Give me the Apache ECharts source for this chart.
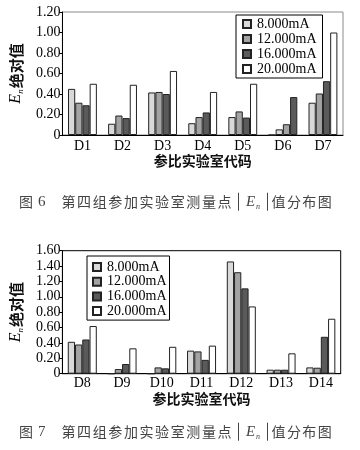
<!DOCTYPE html>
<html><head><meta charset="utf-8">
<script src="https://cdn.jsdelivr.net/npm/echarts@6/dist/echarts.min.js"></script>
<style>html,body{margin:0;padding:0;background:#fff}#c{width:360px;height:450px}</style>
</head><body><div id="c"></div>
<script>
// ---- data ----
const seriesNames = ['8.000mA', '12.000mA', '16.000mA', '20.000mA'];
const labsFig6 = ['D1', 'D2', 'D3', 'D4', 'D5', 'D6', 'D7'];
const fig6_8mA  = [0.45, 0.11, 0.415, 0.115, 0.175, 0, 0.315];
const fig6_12mA = [0.315, 0.19, 0.42, 0.175, 0.23, 0.055, 0.405];
const fig6_16mA = [0.29, 0.165, 0.40, 0.22, 0.17, 0.105, 0.525];
const fig6_20mA = [0.50, 0.49, 0.625, 0.42, 0.50, 0.37, 1.00];
const labsFig7 = ['D8', 'D9', 'D10', 'D11', 'D12', 'D13', 'D14'];
const fig7_8mA  = [0.415, 0, 0, 0.30, 1.46, 0.052, 0.082];
const fig7_12mA = [0.38, 0.06, 0.082, 0.29, 1.32, 0.052, 0.078];
const fig7_16mA = [0.445, 0.126, 0.07, 0.18, 1.11, 0.052, 0.48];
const fig7_20mA = [0.62, 0.33, 0.35, 0.365, 0.875, 0.265, 0.715];
const fig6Ticks = {min: 0, max: 1.2, interval: 0.2};
const fig7Ticks = {min: 0, max: 1.6, interval: 0.2};

// ---- style ----
const colors = ['#d9d9d9', '#a3a3a3', '#5a5a5a', '#ffffff'];
const SERIF = '"Liberation Serif", "Times New Roman", serif';
const CJK = '"Noto Sans CJK SC", sans-serif';
const capColor = '#444';

const chart = echarts.init(document.getElementById('c'), null, {renderer: 'canvas'});

function mkSeries(arrs, idx, gap, shiftIdx) {
  return arrs.map((a, i) => ({
    name: seriesNames[i], type: 'bar', xAxisIndex: idx, yAxisIndex: idx,
    barGap: '0%', barCategoryGap: gap,
    itemStyle: {color: colors[i], borderColor: '#222', borderWidth: 1},
    // D6 in Fig.6 is drawn shifted one slot with the first three shades
    data: a.map((v, k) => (shiftIdx === k && i > 0) ? {value: v, itemStyle: {color: colors[i - 1]}} : v),
    animation: false
  }));
}

function yName() { return '{e|E}{s|n}{c|绝对值}'; }
const yNameStyle = {
  color: '#000',
  rich: {
    e: {fontFamily: SERIF, fontStyle: 'italic', fontSize: 16, color: '#000', lineHeight: 18, verticalAlign: 'middle'},
    s: {fontFamily: SERIF, fontStyle: 'italic', fontSize: 9, color: '#000', lineHeight: 18, verticalAlign: 'bottom', padding: [8, 1, 0, 0]},
    c: {fontFamily: CJK, fontSize: 15, fontWeight: 'bold', color: '#111', lineHeight: 18, verticalAlign: 'middle'}
  }
};

function txt(x, y, t, font, extra) {
  return {type: 'text', x: x, y: y, silent: true,
    style: Object.assign({text: t, font: font, fill: capColor, verticalAlign: 'middle', align: 'left'}, extra || {})};
}
function caption(y, num) {
  const els = [];
  els.push(txt(19, y, '图', '14px ' + CJK));
  els.push(txt(38, y, num, '15px ' + SERIF));
  const s1 = '第四组参加实验室测量点';
  for (let i = 0; i < s1.length; i++) els.push(txt(61.5 + i * 15.6, y, s1[i], '14px ' + CJK));
  els.push({type: 'line', silent: true, shape: {x1: 238.5, y1: y - 9, x2: 238.5, y2: y + 9}, style: {stroke: capColor, lineWidth: 1}});
  els.push(txt(246, y, 'E', 'italic 15px ' + SERIF));
  els.push(txt(256, y + 5, 'n', 'italic 8px ' + SERIF));
  els.push({type: 'line', silent: true, shape: {x1: 267.5, y1: y - 9, x2: 267.5, y2: y + 9}, style: {stroke: capColor, lineWidth: 1}});
  const s2 = '值分布图';
  for (let i = 0; i < s2.length; i++) els.push(txt(271.5 + i * 15.4, y, s2[i], '14px ' + CJK));
  return els;
}

function xAx(idx, labs, margin, gap) {
  return {type: 'category', gridIndex: idx, data: labs,
    axisLine: {lineStyle: {color: '#000', width: 1}}, axisTick: {show: false},
    axisLabel: {fontFamily: SERIF, fontSize: 14, color: '#000', margin: margin},
    name: '参比实验室代码', nameLocation: 'middle', nameGap: gap,
    nameTextStyle: {fontFamily: CJK, fontSize: 14, fontWeight: 'bold', color: '#111'}};
}
function yAx(idx, ticks, gap) {
  return {type: 'value', gridIndex: idx, min: ticks.min, max: ticks.max, interval: ticks.interval,
    axisLine: {show: true, lineStyle: {color: '#000', width: 1}},
    axisTick: {show: true, length: 3, lineStyle: {color: '#000'}},
    splitLine: {show: false},
    axisLabel: {fontFamily: SERIF, fontSize: 14, color: '#000', margin: 2,
      formatter: v => v === 0 ? '0' : v.toFixed(2)},
    name: yName(), nameLocation: 'middle', nameGap: gap, nameTextStyle: yNameStyle};
}

function legendCfg(left, top, pad, gap) {
  return {data: seriesNames, orient: 'vertical', left: left, top: top, padding: pad, itemGap: gap,
    icon: 'rect', itemWidth: 8, itemHeight: 8, selectedMode: false,
    borderColor: '#000', borderWidth: 1, backgroundColor: '#fff',
    textStyle: {fontFamily: SERIF, fontSize: 14, color: '#000', lineHeight: 14, padding: [0, 0, 0, 1]}};
}

chart.setOption({
  animation: false,
  backgroundColor: '#fff',
  grid: [
    {left: 51.5, right: 17, top: 12, bottom: 315, show: true, borderColor: '#8a8a8a', borderWidth: 1, backgroundColor: 'transparent'},
    {left: 54, right: 19.3, top: 250.7, bottom: 76.3, show: true, borderColor: '#000', borderWidth: 1, backgroundColor: 'transparent'}
  ],
  legend: [legendCfg(236, 15, [2, 6, 2, 6], 1), legendCfg(87, 256, [4, 3, 2, 5], 0.7)],
  xAxis: [xAx(0, labsFig6, 4, 19), xAx(1, labsFig7, 3, 18)],
  yAxis: [yAx(0, fig6Ticks, 31), yAx(1, fig7Ticks, 32)],
  series: [].concat(
    mkSeries([fig6_8mA, fig6_12mA, fig6_16mA, fig6_20mA], 0, '28%', 5),
    mkSeries([fig7_8mA, fig7_12mA, fig7_16mA, fig7_20mA], 1, '27%', -1)
  ),
  graphic: [].concat(caption(201.7, '6'), caption(431.7, '7'))
});
</script></body></html>
